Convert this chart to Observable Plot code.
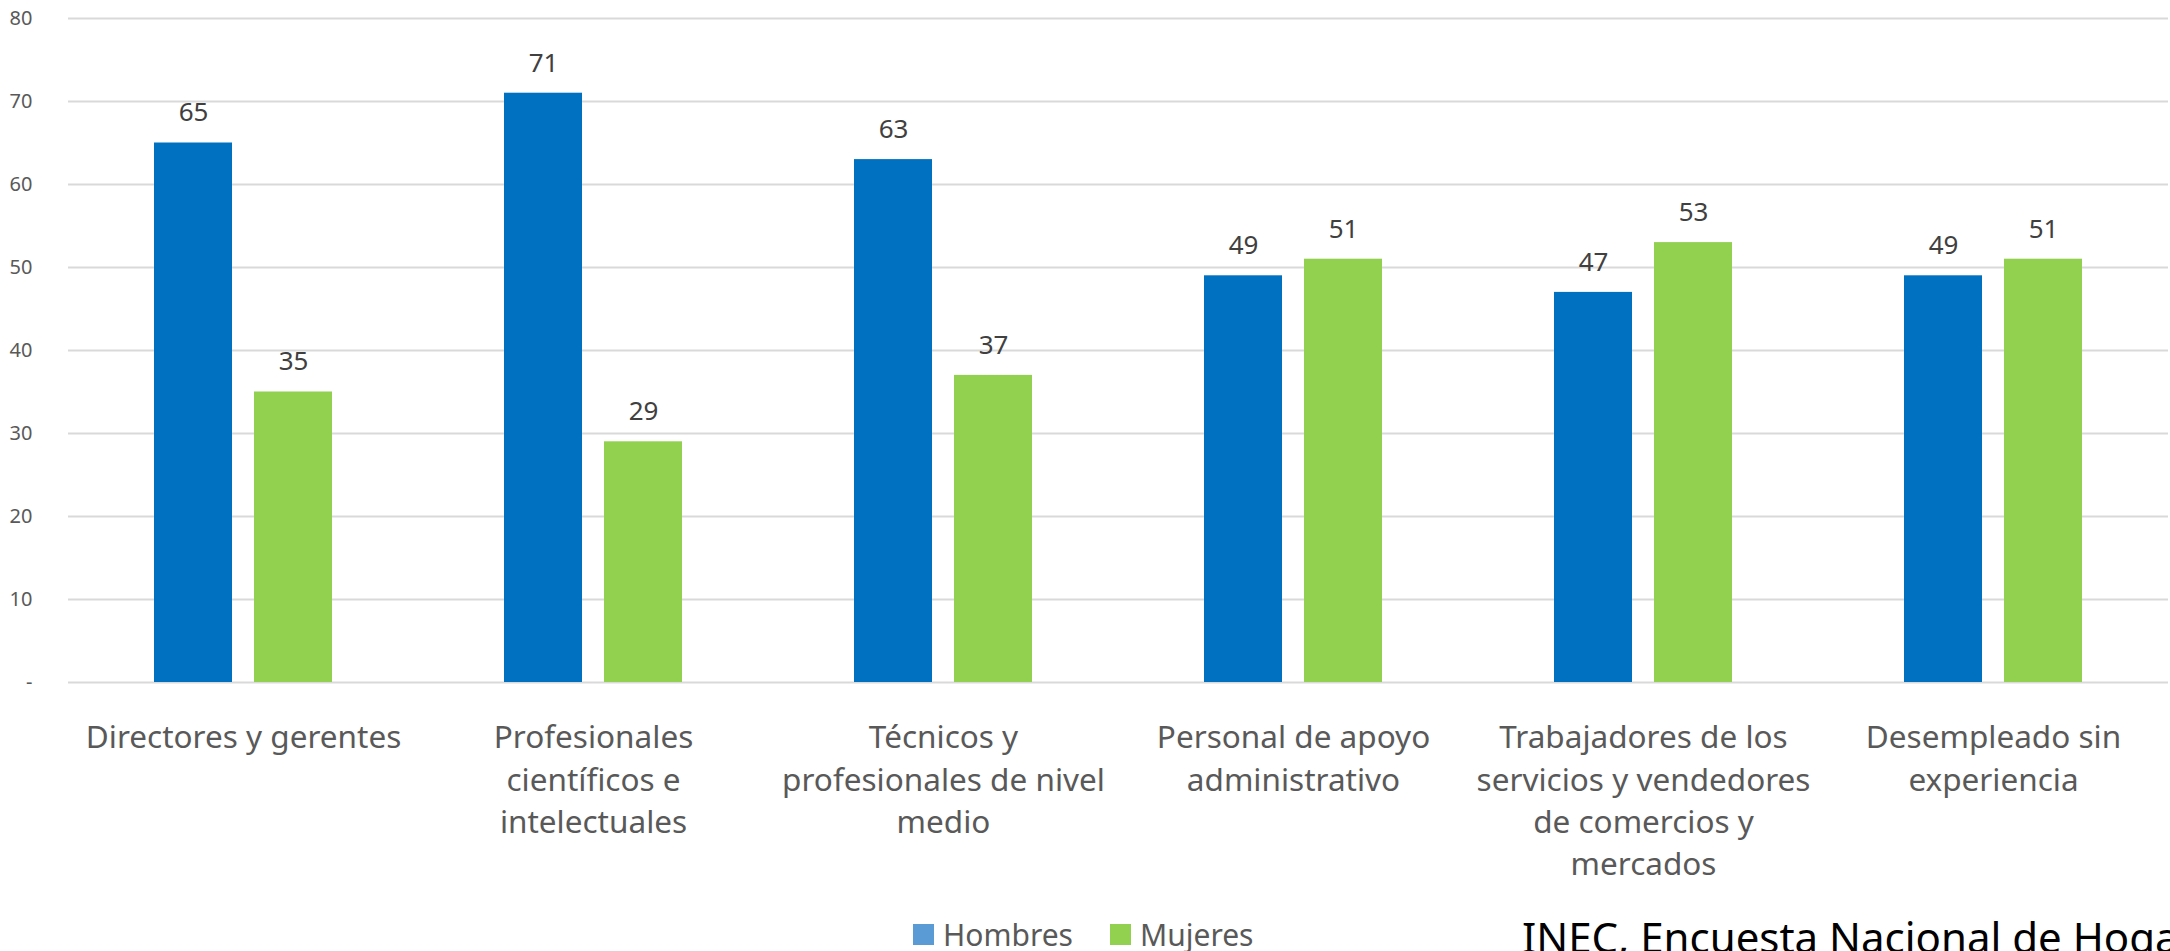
<!DOCTYPE html>
<html>
<head>
<meta charset="utf-8">
<script src="https://cdn.jsdelivr.net/npm/d3@7"></script>
<script src="https://cdn.jsdelivr.net/npm/@observablehq/plot@0.6"></script>
<style>
  html, body { margin: 0; padding: 0; background: #fff; }
  body { width: 2170px; height: 951px; overflow: hidden; position: relative; font-family: "Noto Sans", sans-serif; }
  #chart { position: absolute; left: 0; top: 0; }
  #legend { position: absolute; left: 913px; top: 913px; height: 42px; display: flex; align-items: center; gap: 37px; color: #595959; font-size: 30px; white-space: nowrap; }
  #legend .item { display: flex; align-items: center; gap: 9px; }
  #legend .sw { width: 21px; height: 21px; display: inline-block; }
  #source { position: absolute; left: 1522px; top: 916px; font-size: 42px; line-height: 42px; color: #000; white-space: nowrap; }
</style>
</head>
<body>
<div id="chart"></div>
<div id="legend"></div>
<div id="source">INEC, Encuesta Nacional de Hogares</div>
<script>
const categories = [
  "Directores y gerentes",
  "Profesionales científicos e intelectuales",
  "Técnicos y profesionales de nivel medio",
  "Personal de apoyo administrativo",
  "Trabajadores de los servicios y vendedores de comercios y mercados",
  "Desempleado sin experiencia"
];
const categoryLabels = [
  "Directores y gerentes",
  "Profesionales\ncientíficos e\nintelectuales",
  "Técnicos y\nprofesionales de nivel\nmedio",
  "Personal de apoyo\nadministrativo",
  "Trabajadores de los\nservicios y vendedores\nde comercios y\nmercados",
  "Desempleado sin\nexperiencia"
];
const series = ["Hombres", "Mujeres"];
const hombres = [65, 71, 63, 49, 47, 49];
const mujeres = [35, 29, 37, 51, 53, 51];
const yTicks = [0, 10, 20, 30, 40, 50, 60, 70, 80];
const barColors = ["#0070C0", "#92D050"];
const legendColors = ["#5B9BD5", "#92D050"];

const data = categories.flatMap((c, i) => [
  {cat: c, serie: series[0], value: hombres[i]},
  {cat: c, serie: series[1], value: mujeres[i]}
]);

const chart = Plot.plot({
  width: 2170,
  height: 900,
  marginLeft: 65,
  marginRight: 0,
  marginTop: 18,
  marginBottom: 218,
  style: {fontFamily: "Noto Sans", background: "white"},
  fx: {domain: categories, paddingInner: 0, paddingOuter: 0, axis: null, label: null},
  x: {domain: series, paddingInner: 0.22, paddingOuter: 0.86, axis: null},
  y: {domain: [0, 80], axis: null, label: null},
  color: {domain: series, range: barColors},
  marks: [
    Plot.ruleY(yTicks, {stroke: "#D9D9D9", strokeWidth: 2}),
    Plot.barY(data, {fx: "cat", x: "serie", y: "value", fill: "serie"}),
    Plot.text(data, {fx: "cat", x: "serie", y: "value", text: d => String(d.value), dy: -30, lineAnchor: "middle", fontSize: 26, fill: "#404040"}),
    Plot.text(categories, {fx: d => d, text: d => categoryLabels[categories.indexOf(d)], frameAnchor: "bottom", lineAnchor: "top", dy: 36, fontSize: 31.5, lineHeight: 1.34, fill: "#595959"}),
    Plot.axisY({ticks: yTicks, tickFormat: d => d === 0 ? "-" : String(d), tickSize: 0, tickPadding: 36, fontSize: 20, fill: "#595959", label: null})
  ]
});
document.getElementById("chart").appendChild(chart);

const legend = document.getElementById("legend");
series.forEach((s, i) => {
  const item = document.createElement("span");
  item.className = "item";
  const sw = document.createElement("span");
  sw.className = "sw";
  sw.style.background = legendColors[i];
  const label = document.createElement("span");
  label.textContent = s;
  item.appendChild(sw);
  item.appendChild(label);
  legend.appendChild(item);
});
</script>
</body>
</html>
